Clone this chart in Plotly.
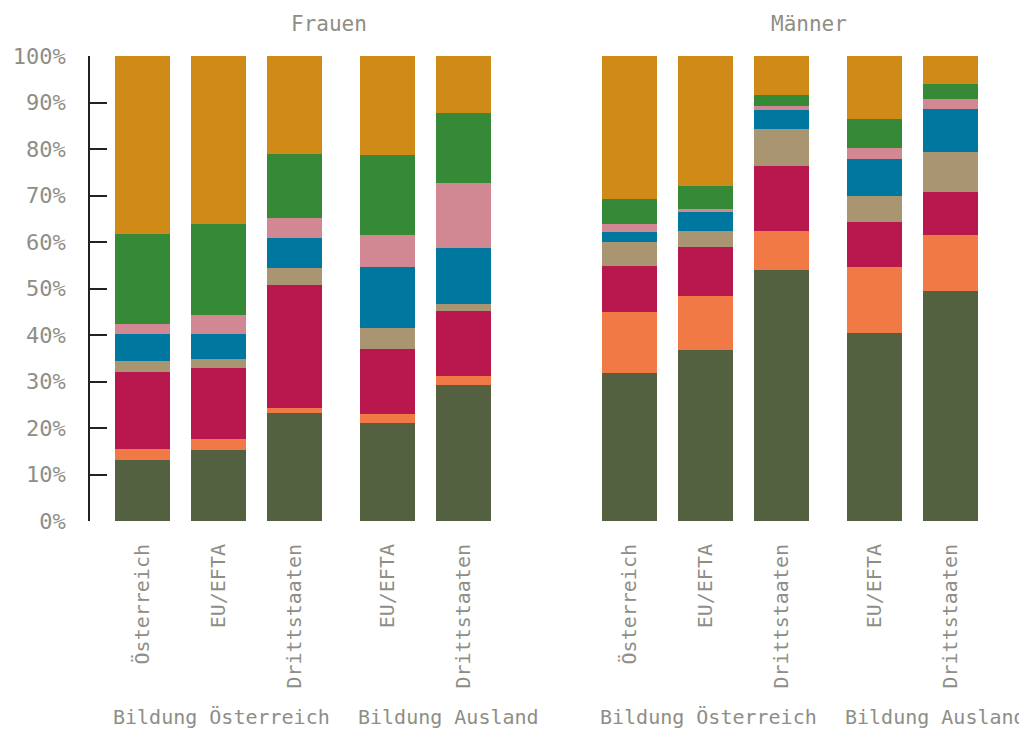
import plotly.graph_objects as go
from plotly.subplots import make_subplots

# ---- data -------------------------------------------------------------
panels = ["Frauen", "Männer"]
categories = ["Österreich", "EU/EFTA", "Drittstaaten", "EU/EFTA", "Drittstaaten"]
groups = ["Bildung Österreich", "Bildung Österreich", "Bildung Österreich",
          "Bildung Ausland", "Bildung Ausland"]

series_names = ["Kategorie 1", "Kategorie 2", "Kategorie 3", "Kategorie 4",
                "Kategorie 5", "Kategorie 6", "Kategorie 7", "Kategorie 8"]

# shares in % (bottom to top), one list per series, five bars each
frauen_s1 = [13.1, 15.3, 23.2, 21.1, 29.2]
frauen_s2 = [2.4, 2.3, 1.2, 1.9, 2.0]
frauen_s3 = [16.5, 15.4, 26.4, 13.9, 13.9]
frauen_s4 = [2.4, 1.9, 3.6, 4.5, 1.6]
frauen_s5 = [5.8, 5.3, 6.4, 13.2, 12.0]
frauen_s6 = [2.2, 4.2, 4.4, 7.0, 14.0]
frauen_s7 = [19.3, 19.5, 13.7, 17.1, 15.0]
frauen_s8 = [38.3, 36.1, 21.1, 21.3, 12.3]

maenner_s1 = [31.8, 36.8, 53.9, 40.4, 49.5]
maenner_s2 = [13.2, 11.5, 8.5, 14.2, 11.9]
maenner_s3 = [9.8, 10.6, 13.9, 9.8, 9.4]
maenner_s4 = [5.1, 3.5, 8.1, 5.5, 8.6]
maenner_s5 = [2.2, 4.0, 3.9, 7.9, 9.1]
maenner_s6 = [1.8, 0.7, 0.9, 2.5, 2.3]
maenner_s7 = [5.3, 4.9, 2.4, 6.2, 3.2]
maenner_s8 = [30.8, 28.0, 8.4, 13.5, 6.0]

frauen = [frauen_s1, frauen_s2, frauen_s3, frauen_s4,
          frauen_s5, frauen_s6, frauen_s7, frauen_s8]
maenner = [maenner_s1, maenner_s2, maenner_s3, maenner_s4,
           maenner_s5, maenner_s6, maenner_s7, maenner_s8]

y_ticks = [0, 10, 20, 30, 40, 50, 60, 70, 80, 90, 100]

# ---- style ------------------------------------------------------------
colors = ["#536141", "#f07945", "#b9184f", "#aa9573",
          "#00779e", "#d18892", "#368936", "#d08a17"]
text_color = "#8e8e87"
font_main = "DejaVu Sans Mono"

GAP = 0.224      # extra space between the two education groups
BAR_W = 0.72

# numeric positions derived from category order and group membership
positions = []
g_index = -1
prev = None
for i, g in enumerate(groups):
    if g != prev:
        g_index += 1
        prev = g
    positions.append(i + GAP * g_index)

PAGE_OFF = 8  # default body margin of the html page
W, H = 1027 - PAGE_OFF, 729 - PAGE_OFF
L, R, T = 90 - PAGE_OFF, 24, 56 - PAGE_OFF
B = H - (521 - PAGE_OFF)
plot_w = W - L - R
plot_h = H - T - B
x_range = [-0.69, positions[-1] + 0.69]

fig = make_subplots(rows=1, cols=2, horizontal_spacing=(577 - 516) / plot_w)

for p, data in enumerate([frauen, maenner]):
    for s, vals in enumerate(data):
        fig.add_trace(
            go.Bar(
                x=positions, y=vals, name=series_names[s],
                width=BAR_W, marker=dict(color=colors[s], line=dict(width=0)),
                showlegend=False,
                hovertemplate="%{y:.1f}%<extra>" + series_names[s] + "</extra>",
            ),
            row=1, col=p + 1,
        )

fig.update_layout(
    barmode="stack",
    width=W, height=H,
    margin=dict(l=L, r=R, t=T, b=B, autoexpand=False),
    plot_bgcolor="white", paper_bgcolor="white",
    bargap=0,
    font=dict(family=font_main, color=text_color, size=20),
)

for c in (1, 2):
    fig.update_xaxes(
        range=x_range, tickmode="array", tickvals=positions, ticktext=categories,
        tickangle=-90, showgrid=False, zeroline=False, showline=False, ticks="",
        tickfont=dict(family=font_main, size=20, color=text_color),
        ticklabelstandoff=18,
        row=1, col=c,
    )

fig.update_yaxes(
    range=[0, 100], tickvals=y_ticks, ticktext=[f"{v}%" for v in y_ticks],
    showgrid=False, zeroline=False,
    showline=True, linecolor="#222222", linewidth=1.5,
    ticks="inside", ticklen=17, tickcolor="#222222", tickwidth=1.5,
    tickfont=dict(family=font_main, size=22, color=text_color),
    ticklabelstandoff=18,
    row=1, col=1,
)
fig.update_yaxes(range=[0, 100], visible=False, row=1, col=2)

# panel titles (centres in reference pixels)
title_x = [329, 809]
for name, px in zip(panels, title_x):
    fig.add_annotation(
        text=name, xref="paper", yref="paper",
        x=(px - 90) / plot_w, y=1 + (56 - 24) / plot_h, yanchor="middle",
        xanchor="center", showarrow=False,
        font=dict(family=font_main, size=21, color=text_color),
    )

# group labels, left aligned at each group's first bar
for xref in ["x", "x2"]:
    seen = []
    for i, g in enumerate(groups):
        if g in seen:
            continue
        seen.append(g)
        fig.add_annotation(
            text=g, xref=xref, yref="paper",
            x=positions[i] - BAR_W / 2, xanchor="left", xshift=-4,
            y=-(717 - 521) / plot_h, yanchor="middle",
            showarrow=False,
            font=dict(family=font_main, size=20, color=text_color),
        )

fig.write_html("out.html")
